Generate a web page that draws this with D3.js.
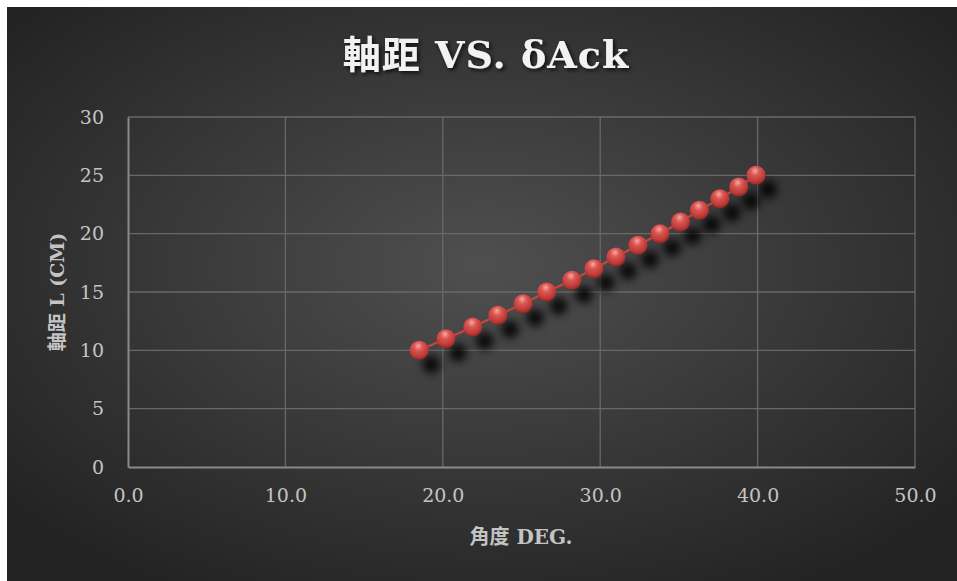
<!DOCTYPE html>
<html>
<head>
<meta charset="utf-8">
<script src="https://cdn.jsdelivr.net/npm/d3@7"></script>
<style>
  html, body { margin: 0; padding: 0; background: #ffffff; }
  svg { display: block; }
</style>
</head>
<body>
<div id="chart"></div>
<script>
// data
var angleDeg = [18.5, 20.2, 21.9, 23.5, 25.1, 26.6, 28.2, 29.6, 31.0, 32.4, 33.8, 35.1, 36.3, 37.6, 38.8, 39.9];
var wheelbase = [10, 11, 12, 13, 14, 15, 16, 17, 18, 19, 20, 21, 22, 23, 24, 25];
var xTicks = [0, 10, 20, 30, 40, 50];
var yTicks = [0, 5, 10, 15, 20, 25, 30];
var titleText = "軸距 VS. δAck";
var xTitle = "角度 DEG.";
var yTitle = "軸距 L (CM)";

var W = 957, H = 581;
var serif = "'DejaVu Serif', 'Noto Sans CJK TC', serif";

var svg = d3.select("#chart").append("svg").attr("width", W).attr("height", H);
var defs = svg.append("defs");

// background gradient
var bg = defs.append("radialGradient").attr("id", "bg")
  .attr("cx", "50%").attr("cy", "45%").attr("r", "65%");
bg.append("stop").attr("offset", "0%").attr("stop-color", "#4f4f4f");
bg.append("stop").attr("offset", "100%").attr("stop-color", "#232323");

// sphere gradient
var ball = defs.append("radialGradient").attr("id", "ball")
  .attr("cx", "45%").attr("cy", "35%").attr("r", "65%").attr("fx", "45%").attr("fy", "25%");
ball.append("stop").attr("offset", "0%").attr("stop-color", "#f5aaa6");
ball.append("stop").attr("offset", "35%").attr("stop-color", "#dc5753");
ball.append("stop").attr("offset", "80%").attr("stop-color", "#bb3935");
ball.append("stop").attr("offset", "100%").attr("stop-color", "#902422");

var blur = defs.append("filter").attr("id", "blur").attr("x", "-100%").attr("y", "-100%").attr("width", "300%").attr("height", "300%");
blur.append("feGaussianBlur").attr("stdDeviation", 4.5);

var tshadow = defs.append("filter").attr("id", "tshadow");
tshadow.append("feDropShadow").attr("dx", 2).attr("dy", 2).attr("stdDeviation", 2).attr("flood-color", "#000").attr("flood-opacity", 0.8);

svg.append("rect").attr("x", 7).attr("y", 7).attr("width", W - 7).attr("height", H - 7)
  .attr("fill", "url(#bg)");

var x = d3.scaleLinear().domain([0, 50]).range([128, 915]);
var y = d3.scaleLinear().domain([0, 30]).range([467, 117]);

// grid
svg.append("g").selectAll("line").data(xTicks.slice(1)).enter().append("line")
  .attr("x1", function(d){ return x(d); }).attr("x2", function(d){ return x(d); })
  .attr("y1", y(0)).attr("y2", y(30))
  .attr("stroke", "#686868").attr("stroke-width", 1.3);
svg.append("g").selectAll("line").data(yTicks.slice(1)).enter().append("line")
  .attr("x1", x(0)).attr("x2", x(50))
  .attr("y1", function(d){ return y(d); }).attr("y2", function(d){ return y(d); })
  .attr("stroke", "#686868").attr("stroke-width", 1.3);

// axes
var xAxis = svg.append("g").attr("transform", "translate(0," + y(0) + ")")
  .call(d3.axisBottom(x).tickValues(xTicks).tickFormat(d3.format(".1f")).tickSize(0).tickPadding(22));
var yAxis = svg.append("g").attr("transform", "translate(" + x(0) + ",0)")
  .call(d3.axisLeft(y).tickValues(yTicks).tickSize(0).tickPadding(24));
[xAxis, yAxis].forEach(function(a){
  a.select(".domain").attr("stroke", "#8a8a8a").attr("stroke-width", 2);
  a.selectAll("text").attr("fill", "#c4c4c4").style("font-family", serif).style("font-size", "19px");
});

// line
svg.append("path").datum(angleDeg)
  .attr("fill", "none").attr("stroke", "#c9443f").attr("stroke-width", 2.2)
  .attr("d", d3.line().x(function(d){ return x(d); }).y(function(d, i){ return y(wheelbase[i]); }));

// marker shadows
svg.append("g").selectAll("circle").data(angleDeg).enter().append("circle")
  .attr("cx", function(d){ return x(d) + 12; })
  .attr("cy", function(d, i){ return y(wheelbase[i]) + 14; })
  .attr("r", 9).attr("fill", "#000").attr("opacity", 0.85).attr("filter", "url(#blur)");

// markers
svg.append("g").selectAll("circle").data(angleDeg).enter().append("circle")
  .attr("cx", function(d){ return x(d); })
  .attr("cy", function(d, i){ return y(wheelbase[i]); })
  .attr("r", 9.5).attr("fill", "url(#ball)");

// titles
svg.append("text").attr("x", 486).attr("y", 68).attr("text-anchor", "middle")
  .attr("fill", "#f2f2f2").attr("filter", "url(#tshadow)")
  .style("font-family", serif).style("font-size", "38px").style("font-weight", "bold")
  .style("letter-spacing", "1px")
  .text(titleText);

svg.append("text").attr("x", 521).attr("y", 544).attr("text-anchor", "middle")
  .attr("fill", "#c4c4c4")
  .style("font-family", serif).style("font-size", "20px").style("font-weight", "bold")
  .text(xTitle);

svg.append("text").attr("transform", "translate(64,292) rotate(-90)").attr("text-anchor", "middle")
  .attr("fill", "#c4c4c4")
  .style("font-family", serif).style("font-size", "19px").style("font-weight", "bold")
  .text(yTitle);
</script>
</body>
</html>
